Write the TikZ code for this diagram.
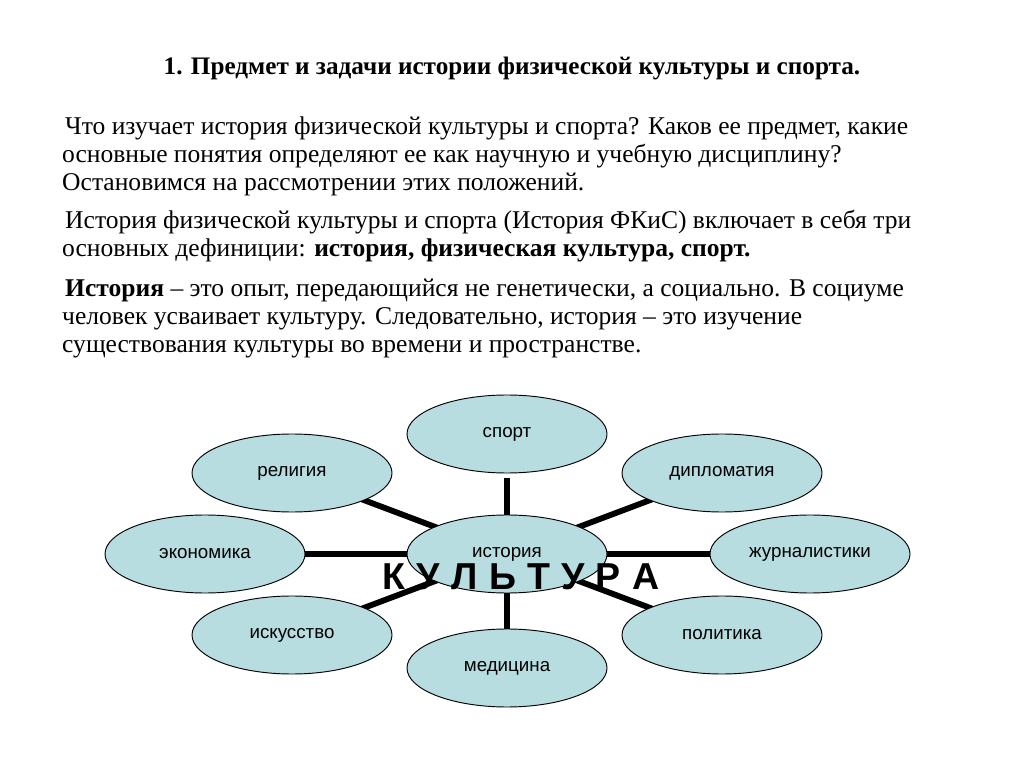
\documentclass[tikz,border=0pt]{standalone}
\usepackage{fontspec}
\setmainfont{Liberation Serif}
\newfontfamily\arialf{Liberation Sans}
\usetikzlibrary{shapes.geometric}
\definecolor{bubc}{RGB}{183,221,224}
\begin{document}
\begin{tikzpicture}[x=0.03cm,y=-0.03cm,
  bub/.style={ellipse,draw=black,thick,fill=bubc,minimum width=6cm,minimum height=2.34cm,inner sep=0,font=\arialf\fontsize{16}{18}\selectfont},
  lnk/.style={line width=5pt},
  txt/.style={anchor=base west,inner sep=0,font=\fontsize{21.8}{24}\selectfont}]
\useasboundingbox (0,0) rectangle (1024,767);
\node[anchor=base,inner sep=0,font=\bfseries\fontsize{21.5}{24}\selectfont] (t) at (512,75) {1. Предмет и задачи истории физической культуры и спорта.};
\node[txt] (a1) at (65,135) {Что изучает история физической культуры и спорта? Каков ее предмет, какие};
\node[txt] (a2) at (62,163) {основные понятия определяют ее как научную и учебную дисциплину?};
\node[txt] (a3) at (62,191) {Остановимся на рассмотрении этих положений.};
\node[txt] (b1) at (65,229) {История физической культуры и спорта (История ФКиС) включает в себя три};
\node[txt] (b2) at (62,257) {основных дефиниции: \textbf{история, физическая культура, спорт.}};
\node[txt] (c1) at (65,297) {\textbf{История} – это опыт, передающийся не генетически, а социально. В социуме};
\node[txt] (c2) at (62,325) {человек усваивает культуру. Следовательно, история – это изучение};
\node[txt] (c3) at (62,353) {существования культуры во времени и пространстве.};
\coordinate (sp) at (507,478);
\coordinate (c) at (507,554);
\draw[lnk] (c) -- (sp);
\draw[lnk] (c) -- (292,473);
\draw[lnk] (c) -- (722,473);
\draw[lnk] (c) -- (205,554);
\draw[lnk] (c) -- (810,554);
\draw[lnk] (c) -- (292,635);
\draw[lnk] (c) -- (722,635);
\draw[lnk] (c) -- (507,668);
\node[bub] (sport) at (507,434) {спорт};
\node[bub] (rel) at (292,473) {религия};
\node[bub] (dip) at (722,473) {дипломатия};
\node[bub] (eco) at (205,554) {экономика};
\node[bub] (jur) at (810,554) {журналистики};
\node[bub] (isk) at (292,635) {искусство};
\node[bub] (pol) at (722,635) {политика};
\node[bub] (med) at (507,668) {медицина};
\node[bub] (hist) at (c) {история};
\node[inner sep=0,font=\arialf\bfseries\fontsize{32}{34}\selectfont] (k) at (521,577) {К\hspace{0.3em}У\hspace{0.3em}Л\hspace{0.3em}Ь\hspace{0.3em}Т\hspace{0.3em}У\hspace{0.3em}Р\hspace{0.3em}А};
\end{tikzpicture}
\end{document}
